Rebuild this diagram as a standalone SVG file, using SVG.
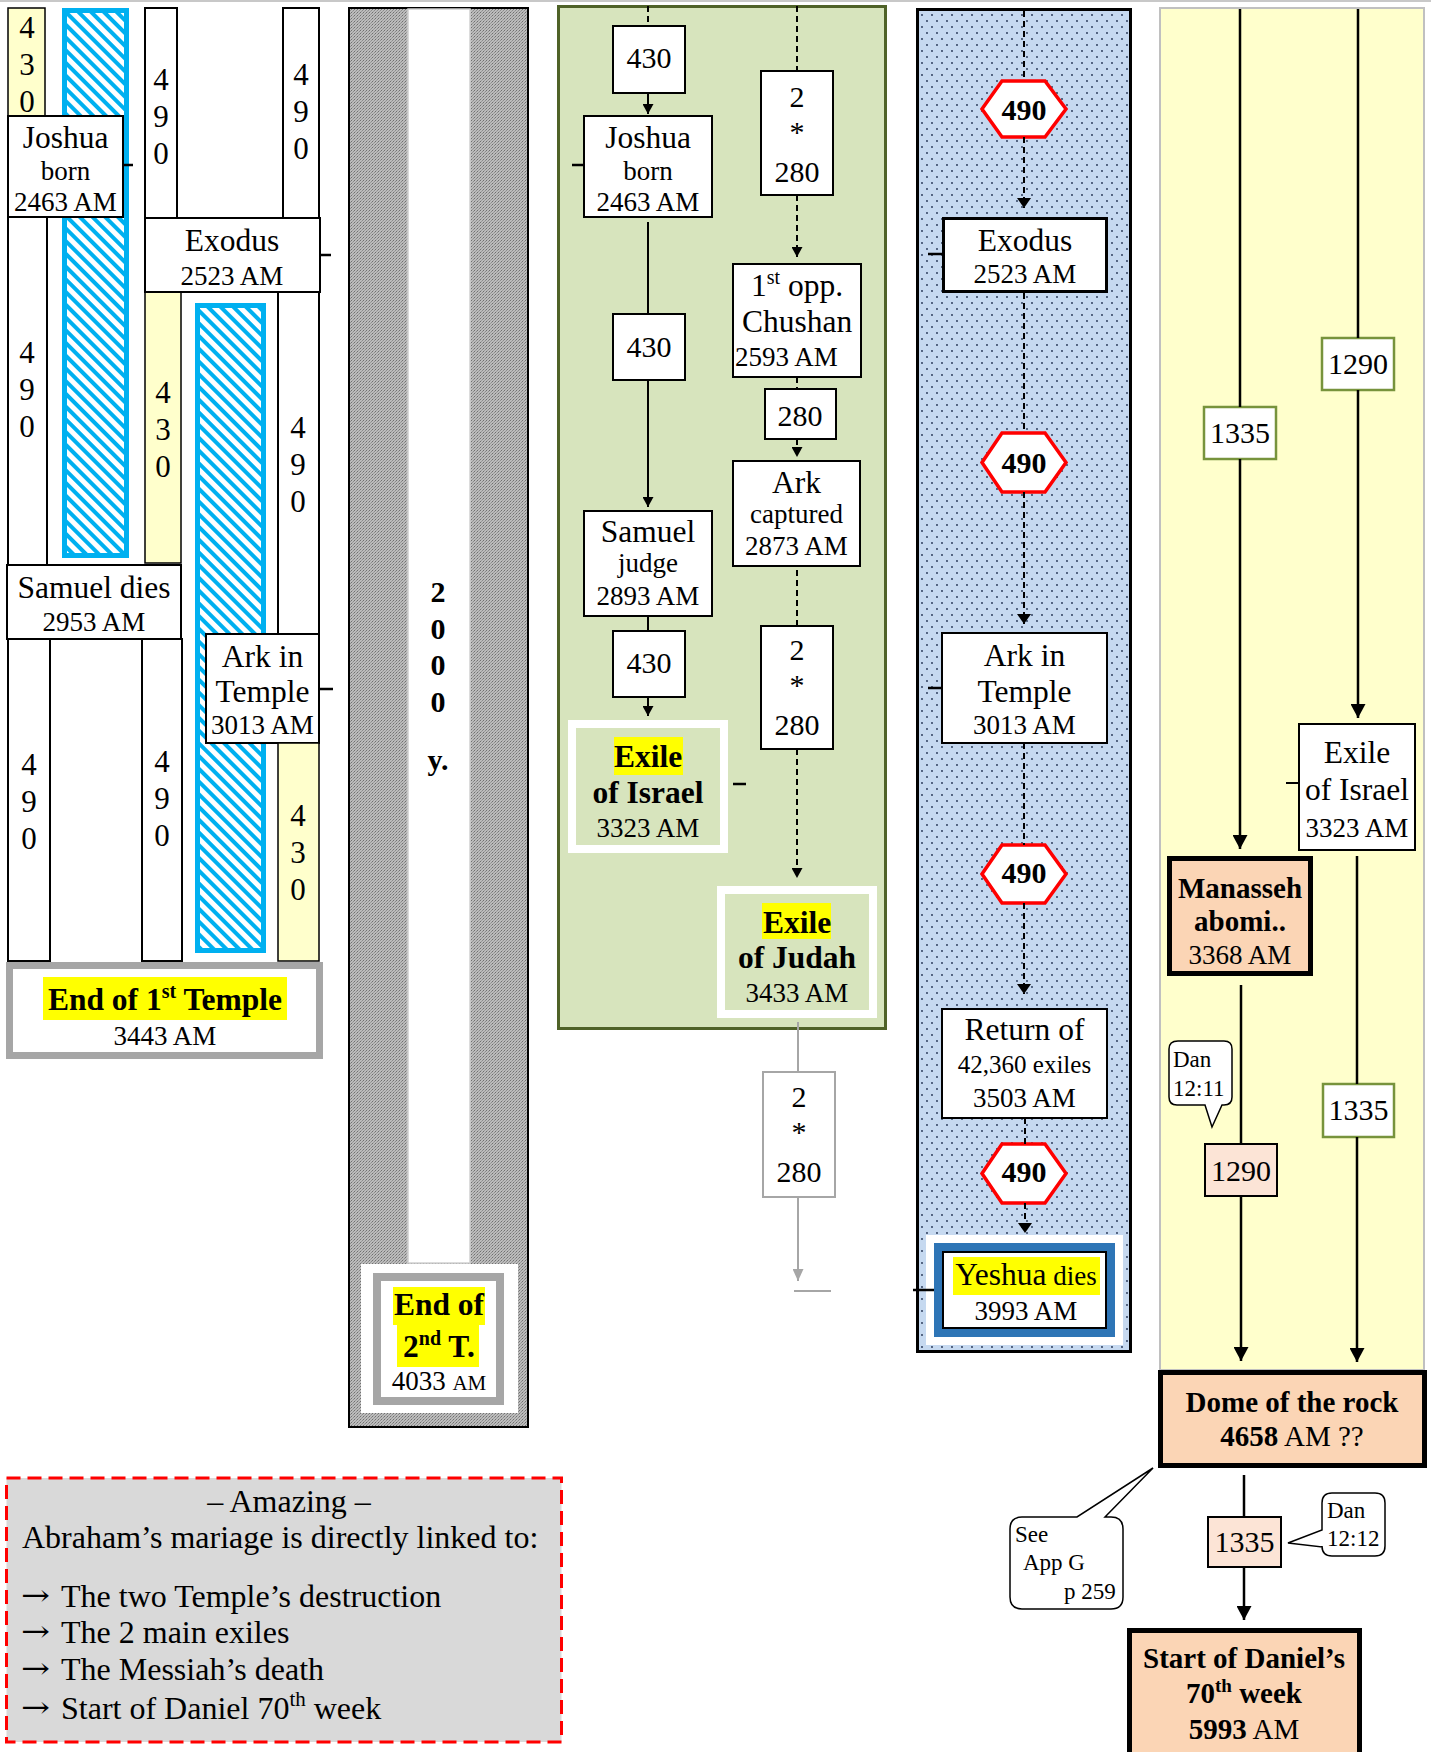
<svg xmlns="http://www.w3.org/2000/svg" width="1431" height="1752" viewBox="0 0 1431 1752">
<style>
.t{font-family:'Liberation Serif','Times New Roman',serif;fill:#000}
.L{font-size:31.5px;text-anchor:middle}
.S{font-size:27px;text-anchor:middle}
.V{font-size:31px;text-anchor:middle}
.N{font-size:30px;text-anchor:middle}
.C{font-size:23px}
.b{font-weight:bold}
.ar{font-family:'DejaVu Serif','DejaVu Sans',serif;font-size:29px;fill:#000}
.box{fill:#fff;stroke:#000;stroke-width:2}
.yel{fill:#ffffcc;stroke:#000;stroke-width:1.5}
.hl{fill:#ffff00}
.hex{fill:#fff;stroke:#ff0000;stroke-width:3.5}
.tick{stroke:#000;stroke-width:2.5}
.ln{stroke:#000;stroke-width:2;fill:none}
.ds{stroke:#000;stroke-width:2;fill:none;stroke-dasharray:6 4}
.gl{stroke:#a6a6a6;stroke-width:2;fill:none}
.yl{stroke:#000;stroke-width:2.5;fill:none}
.gbox{fill:#fff;stroke:#77933c;stroke-width:2.5}
.pbox{fill:#fce4d6;stroke:#000;stroke-width:2}
.heavy{fill:#fbd5b5;stroke:#000;stroke-width:5}
.call{fill:#fff;stroke:#000;stroke-width:1.5}
</style>
<defs>
<pattern id="hatch" width="9" height="9" patternUnits="userSpaceOnUse" patternTransform="rotate(-45)"><rect width="9" height="9" fill="#fff"/><rect width="4" height="9" fill="#00b0f0"/></pattern>
<pattern id="gp" width="3" height="3" patternUnits="userSpaceOnUse"><rect width="3" height="3" fill="#bcbcbc"/><rect width="1" height="1" fill="#707070"/><rect x="2" y="1" width="1" height="1" fill="#8c8c8c"/><rect x="1" y="2" width="1" height="1" fill="#9a9a9a"/></pattern>
<pattern id="dots" width="10" height="12" patternUnits="userSpaceOnUse"><rect width="10" height="12" fill="#c6d9f0"/><circle cx="2" cy="3" r="0.9" fill="#1f2f4f"/><circle cx="7" cy="9" r="0.9" fill="#1f2f4f"/></pattern>
<marker id="a" viewBox="0 0 10 10" preserveAspectRatio="none" refX="10" refY="5" markerWidth="10" markerHeight="11" markerUnits="userSpaceOnUse" orient="auto"><path d="M0,0 L10,5 L0,10 Z" fill="#000"/></marker>
<marker id="am" viewBox="0 0 10 10" preserveAspectRatio="none" refX="10" refY="5" markerWidth="10" markerHeight="14" markerUnits="userSpaceOnUse" orient="auto"><path d="M0,0 L10,5 L0,10 Z" fill="#000"/></marker>
<marker id="ab" viewBox="0 0 10 10" preserveAspectRatio="none" refX="10" refY="5" markerWidth="14" markerHeight="15" markerUnits="userSpaceOnUse" orient="auto"><path d="M0,0 L10,5 L0,10 Z" fill="#000"/></marker>
<marker id="ag" viewBox="0 0 10 10" preserveAspectRatio="none" refX="10" refY="5" markerWidth="12" markerHeight="11" markerUnits="userSpaceOnUse" orient="auto"><path d="M0,0 L10,5 L0,10 Z" fill="#a6a6a6"/></marker>
</defs>
<rect width="1431" height="1752" fill="#fff"/>
<line x1="0" y1="1" x2="1431" y2="1" stroke="#c8c8c8" stroke-width="2"/>

<!-- LEFT COLUMN -->
<g id="left-430-top"><rect class="yel" x="8" y="8" width="37" height="108"/>
<text class="t V" x="27" y="38"><tspan x="27">4</tspan><tspan x="27" dy="37">3</tspan><tspan x="27" dy="37">0</tspan></text></g>
<g id="hatch-1"><rect x="64.5" y="10.5" width="62" height="545" fill="url(#hatch)" stroke="#00b0f0" stroke-width="5"/></g>
<g id="left-490-a"><rect class="box" x="145" y="8" width="32" height="210"/>
<text class="t V" x="161" y="90"><tspan x="161">4</tspan><tspan x="161" dy="37">9</tspan><tspan x="161" dy="37">0</tspan></text></g>
<g id="left-490-b"><rect class="box" x="283" y="8" width="36" height="210"/>
<text class="t V" x="301" y="85"><tspan x="301">4</tspan><tspan x="301" dy="37">9</tspan><tspan x="301" dy="37">0</tspan></text></g>
<g id="left-490-c"><rect class="box" x="8" y="217" width="39" height="348"/>
<text class="t V" x="27" y="363"><tspan x="27">4</tspan><tspan x="27" dy="37">9</tspan><tspan x="27" dy="37">0</tspan></text></g>
<g id="left-joshua"><rect class="box" x="8" y="116" width="115" height="101"/>
<text class="t L" x="65.5" y="148">Joshua</text><text class="t S" x="65.5" y="180">born</text><text class="t S" x="65.5" y="211">2463 AM</text></g>
<g id="left-430-mid"><rect class="yel" x="145" y="292" width="36" height="271"/>
<text class="t V" x="163" y="403"><tspan x="163">4</tspan><tspan x="163" dy="37">3</tspan><tspan x="163" dy="37">0</tspan></text></g>
<g id="left-490-d"><rect class="box" x="278" y="292" width="41" height="342"/>
<text class="t V" x="298" y="438"><tspan x="298">4</tspan><tspan x="298" dy="37">9</tspan><tspan x="298" dy="37">0</tspan></text></g>
<g id="left-exodus"><rect class="box" x="145" y="218" width="175" height="74"/>
<text class="t L" x="232" y="251">Exodus</text><text class="t S" x="232" y="285">2523 AM</text></g>
<g id="hatch-2"><rect x="197.5" y="305.5" width="66" height="645" fill="url(#hatch)" stroke="#00b0f0" stroke-width="5"/></g>
<g id="left-samuel"><rect class="box" x="7" y="565" width="174" height="74"/>
<text class="t L" x="94" y="598">Samuel dies</text><text class="t S" x="94" y="631">2953 AM</text></g>
<g id="left-490-e"><rect class="box" x="8" y="639" width="42" height="322"/>
<text class="t V" x="29" y="775"><tspan x="29">4</tspan><tspan x="29" dy="37">9</tspan><tspan x="29" dy="37">0</tspan></text></g>
<g id="left-490-f"><rect class="box" x="142" y="639" width="40" height="322"/>
<text class="t V" x="162" y="772"><tspan x="162">4</tspan><tspan x="162" dy="37">9</tspan><tspan x="162" dy="37">0</tspan></text></g>
<g id="left-ark"><rect class="box" x="206" y="634" width="113" height="109"/>
<text class="t L" x="262.5" y="667">Ark in</text><text class="t L" x="262.5" y="702">Temple</text><text class="t S" x="262.5" y="734">3013 AM</text></g>
<g id="left-430-low"><rect class="yel" x="278" y="743" width="41" height="218"/>
<text class="t V" x="298" y="826"><tspan x="298">4</tspan><tspan x="298" dy="37">3</tspan><tspan x="298" dy="37">0</tspan></text></g>
<g id="end-first-temple"><rect x="9.5" y="965.5" width="310" height="90" fill="#fff" stroke="#a6a6a6" stroke-width="7"/>
<rect class="hl" x="43" y="977" width="244" height="43"/>
<text class="t L b" x="165" y="1010">End of 1<tspan font-size="20" dy="-12">st</tspan><tspan dy="12"> Temple</tspan></text>
<text class="t S" x="165" y="1045">3443 AM</text></g>

<!-- GRAY COLUMN -->
<g id="second-temple-column"><rect x="349" y="8" width="179" height="1419" fill="url(#gp)" stroke="#000" stroke-width="2"/>
<rect x="408" y="9" width="62" height="1254" fill="#fff" stroke="#d0d0d0" stroke-width="1.5"/>
<text class="t N b" x="438" y="602"><tspan x="438">2</tspan><tspan x="438" dy="36.5">0</tspan><tspan x="438" dy="36.5">0</tspan><tspan x="438" dy="36.5">0</tspan><tspan x="438" dy="58">y.</tspan></text></g>
<g id="end-second-temple"><rect x="361" y="1264" width="157" height="149" fill="#fff"/>
<rect x="377" y="1277" width="123" height="124" fill="#fff" stroke="#a6a6a6" stroke-width="8"/>
<rect class="hl" x="393" y="1287" width="92" height="38"/><rect class="hl" x="397" y="1325" width="82" height="42"/>
<text class="t L b" x="439" y="1315">End of</text>
<text class="t L b" x="439" y="1357">2<tspan font-size="20" dy="-12">nd</tspan><tspan dy="12"> T.</tspan></text>
<text class="t S" x="439" y="1390">4033 <tspan font-size="21">AM</tspan></text></g>

<!-- GREEN PANEL -->
<g id="green-panel"><rect x="558.5" y="6.5" width="327" height="1022" fill="#d7e4bd" stroke="#4f6228" stroke-width="3"/></g>
<g id="g-430-a"><rect class="box" x="613" y="26" width="72" height="67"/><text class="t N" x="649" y="68">430</text></g>
<g id="g-joshua"><rect class="box" x="584" y="116" width="128" height="101"/>
<text class="t L" x="648" y="148">Joshua</text><text class="t S" x="648" y="180">born</text><text class="t S" x="648" y="211">2463 AM</text></g>
<g id="g-430-b"><rect class="box" x="613" y="314" width="72" height="66"/><text class="t N" x="649" y="357">430</text></g>
<g id="g-samuel"><rect class="box" x="584" y="511" width="128" height="105"/>
<text class="t L" x="648" y="542">Samuel</text><text class="t S" x="648" y="572">judge</text><text class="t S" x="648" y="605">2893 AM</text></g>
<g id="g-430-c"><rect class="box" x="613" y="631" width="72" height="66"/><text class="t N" x="649" y="673">430</text></g>
<g id="g-exile-israel"><rect x="572" y="724" width="152" height="125" fill="#d7e4bd" stroke="#fff" stroke-width="8"/>
<rect class="hl" x="614" y="737" width="69" height="38"/>
<text class="t L b" x="648" y="767">Exile</text><text class="t L b" x="648" y="803">of Israel</text><text class="t S" x="648" y="837">3323 AM</text></g>
<g id="g-2x280-a"><rect class="box" x="761" y="71" width="72" height="124"/>
<text class="t N" x="797" y="107"><tspan x="797">2</tspan><tspan x="797" dy="34.5">*</tspan><tspan x="797" dy="40.5">280</tspan></text></g>
<g id="g-chushan"><rect class="box" x="733" y="264" width="128" height="113"/>
<text class="t L" x="797" y="296">1<tspan font-size="20" dy="-12">st</tspan><tspan dy="12"> opp.</tspan></text>
<text class="t L" x="797" y="332">Chushan</text><text class="t" font-size="27" x="735" y="366">2593 AM</text></g>
<g id="g-280"><rect class="box" x="765" y="389" width="71" height="50"/><text class="t N" x="800" y="426">280</text></g>
<g id="g-ark-captured"><rect class="box" x="733" y="461" width="127" height="105"/>
<text class="t L" x="796.5" y="493">Ark</text><text class="t S" x="796.5" y="523">captured</text><text class="t S" x="796.5" y="555">2873 AM</text></g>
<g id="g-2x280-b"><rect class="box" x="761" y="626" width="72" height="123"/>
<text class="t N" x="797" y="660"><tspan x="797">2</tspan><tspan x="797" dy="34.5">*</tspan><tspan x="797" dy="40.5">280</tspan></text></g>
<g id="g-exile-judah"><rect x="721" y="890" width="152" height="124" fill="#d7e4bd" stroke="#fff" stroke-width="8"/>
<rect class="hl" x="762" y="903" width="69" height="36"/>
<text class="t L b" x="797" y="933">Exile</text><text class="t L b" x="797" y="968">of Judah</text><text class="t S" x="797" y="1002">3433 AM</text></g>
<g id="g-2x280-gray"><rect x="763" y="1072" width="72" height="125" fill="#fff" stroke="#a6a6a6" stroke-width="2"/>
<text class="t N" x="799" y="1107"><tspan x="799">2</tspan><tspan x="799" dy="34.5">*</tspan><tspan x="799" dy="40.5">280</tspan></text></g>

<!-- BLUE PANEL -->
<g id="blue-panel"><rect x="917.5" y="9.5" width="213" height="1342" fill="url(#dots)" stroke="#000" stroke-width="3"/></g>
<g id="b-hex-1"><polygon class="hex" points="982,109 1002,81 1045,81 1066,109 1045,137 1002,137"/><text class="t N b" x="1024" y="120">490</text></g>
<g id="b-exodus"><rect x="943.5" y="218.5" width="163" height="73" fill="#fff" stroke="#000" stroke-width="3"/>
<text class="t L" x="1025" y="251">Exodus</text><text class="t S" x="1025" y="283">2523 AM</text></g>
<g id="b-hex-2"><polygon class="hex" points="982,462.5 1002,433 1045,433 1066,462.5 1045,492 1002,492"/><text class="t N b" x="1024" y="473">490</text></g>
<g id="b-ark"><rect class="box" x="942" y="633" width="165" height="110"/>
<text class="t L" x="1024.5" y="666">Ark in</text><text class="t L" x="1024.5" y="702">Temple</text><text class="t S" x="1024.5" y="734">3013 AM</text></g>
<g id="b-hex-3"><polygon class="hex" points="982,874 1002,845 1045,845 1066,874 1045,903 1002,903"/><text class="t N b" x="1024" y="883">490</text></g>
<g id="b-return"><rect class="box" x="942" y="1009" width="165" height="109"/>
<text class="t L" x="1024.5" y="1040">Return of</text><text class="t" font-size="25" text-anchor="middle" x="1024.5" y="1073">42,360 exiles</text><text class="t S" x="1024.5" y="1107">3503 AM</text></g>
<g id="b-hex-4"><polygon class="hex" points="982,1173.5 1002,1144 1045,1144 1066,1173.5 1045,1203 1002,1203"/><text class="t N b" x="1024" y="1182">490</text></g>
<g id="b-yeshua"><rect x="926" y="1235" width="197" height="110" fill="#fff"/>
<rect x="938" y="1247" width="173" height="86" fill="#fff" stroke="#2e75b6" stroke-width="8"/>
<rect x="943" y="1252" width="163" height="76" fill="#fff" stroke="#000" stroke-width="2"/>
<rect class="hl" x="953" y="1257" width="147" height="38"/>
<text class="t L" x="1026" y="1285">Yeshua<tspan font-size="27"> dies</tspan></text><text class="t S" x="1026" y="1320">3993 AM</text></g>

<!-- YELLOW PANEL -->
<g id="yellow-panel"><rect x="1160" y="8" width="264" height="1362" fill="#ffffcc" stroke="#c0c0c0" stroke-width="2"/></g>
<g id="y-1335-a"><rect class="gbox" x="1204" y="407" width="72" height="52"/><text class="t N" x="1240" y="443">1335</text></g>
<g id="y-1290-a"><rect class="gbox" x="1322" y="338" width="72" height="52"/><text class="t N" x="1358" y="374">1290</text></g>
<g id="y-exile-israel"><rect class="box" x="1299" y="724" width="116" height="126"/>
<text class="t L" x="1357" y="763">Exile</text><text class="t L" x="1357" y="800">of Israel</text><text class="t S" x="1357" y="837">3323 AM</text></g>
<g id="y-manasseh"><rect class="heavy" x="1169.5" y="858.5" width="141" height="115"/>
<text class="t b" font-size="29" text-anchor="middle" x="1240" y="898">Manasseh</text><text class="t b" font-size="29" text-anchor="middle" x="1240" y="931">abomi..</text><text class="t S" x="1240" y="964">3368 AM</text></g>
<g id="y-dan-12-11"><path class="call" d="M1178,1041 H1224 Q1232,1041 1232,1049 V1097 Q1232,1105 1224,1105 H1222 L1212,1127 L1205,1105 H1177 Q1169,1105 1169,1097 V1049 Q1169,1041 1178,1041 Z"/>
<text class="t C" x="1173" y="1067">Dan</text><text class="t C" x="1173" y="1096">12:11</text></g>
<g id="y-1290-b"><rect class="pbox" x="1205" y="1144" width="72" height="52"/><text class="t N" x="1241" y="1181">1290</text></g>
<g id="y-1335-b"><rect class="gbox" x="1323" y="1084" width="71" height="53"/><text class="t N" x="1358.5" y="1120">1335</text></g>
<g id="dome"><rect class="heavy" x="1160.5" y="1372.5" width="264" height="93"/>
<text class="t b" font-size="29" text-anchor="middle" x="1292" y="1412">Dome of the rock</text>
<text class="t" font-size="29" text-anchor="middle" x="1292" y="1446"><tspan font-weight="bold">4658</tspan> AM ??</text></g>
<g id="see-app-g"><path class="call" d="M1022,1517 H1077 L1153,1468 L1105,1517 H1111 Q1123,1517 1123,1529 V1597 Q1123,1609 1111,1609 H1022 Q1010,1609 1010,1597 V1529 Q1010,1517 1022,1517 Z"/>
<text class="t C" x="1015" y="1542">See</text><text class="t C" x="1023" y="1570">App G</text><text class="t C" x="1064" y="1599">p 259</text></g>
<g id="y-1335-c"><rect class="pbox" x="1208" y="1517" width="73" height="50"/><text class="t N" x="1244.5" y="1552">1335</text></g>
<g id="dan-12-12"><path class="call" d="M1332,1493 H1375 Q1385,1493 1385,1503 V1546 Q1385,1556 1375,1556 H1332 Q1322,1556 1322,1546 V1547 L1288,1543 L1322,1530 V1503 Q1322,1493 1332,1493 Z"/>
<text class="t C" x="1327" y="1518">Dan</text><text class="t C" x="1327" y="1546">12:12</text></g>
<g id="start-70th-week"><rect class="heavy" x="1129.5" y="1630.5" width="230" height="130"/>
<text class="t b" font-size="29" text-anchor="middle" x="1244" y="1668">Start of Daniel’s</text>
<text class="t b" font-size="29" text-anchor="middle" x="1244" y="1703">70<tspan font-size="19" dy="-11">th</tspan><tspan dy="11"> week</tspan></text>
<text class="t" font-size="29" text-anchor="middle" x="1244" y="1739"><tspan font-weight="bold">5993</tspan> AM</text></g>

<!-- NOTE -->
<g id="note"><rect x="6.5" y="1478" width="555" height="264" fill="#d9d9d9" stroke="#ff0000" stroke-width="3" stroke-dasharray="14 7"/>
<text class="t" font-size="32" text-anchor="middle" x="289" y="1512">– Amazing –</text>
<text class="t" font-size="32" x="22" y="1548">Abraham’s mariage is directly linked to:</text>
<text class="ar" x="21" y="1605" textLength="29" lengthAdjust="spacingAndGlyphs">→</text>
<text class="t" font-size="32" x="61" y="1607">The two Temple’s destruction</text>
<text class="ar" x="21" y="1641" textLength="29" lengthAdjust="spacingAndGlyphs">→</text>
<text class="t" font-size="32" x="61" y="1643">The 2 main exiles</text>
<text class="ar" x="21" y="1678" textLength="29" lengthAdjust="spacingAndGlyphs">→</text>
<text class="t" font-size="32" x="61" y="1680">The Messiah’s death</text>
<text class="ar" x="21" y="1717" textLength="29" lengthAdjust="spacingAndGlyphs">→</text>
<text class="t" font-size="32" x="61" y="1719">Start of Daniel 70<tspan font-size="21" dy="-13">th</tspan><tspan dy="13"> week</tspan></text></g>

<!-- CONNECTORS -->
<g id="connectors">
<line class="tick" x1="123" y1="165" x2="133" y2="165"/>
<line class="tick" x1="320" y1="255" x2="331" y2="255"/>
<line class="tick" x1="319" y1="689" x2="333" y2="689"/>
<line class="tick" x1="572" y1="165" x2="584" y2="165"/>
<line class="tick" x1="733" y1="784" x2="746" y2="784"/>
<line class="tick" x1="928" y1="254" x2="942" y2="254"/>
<line class="tick" x1="928" y1="688" x2="942" y2="688"/>
<line class="tick" x1="913" y1="1290" x2="934" y2="1290"/>
<line class="ln" x1="1286" y1="783" x2="1299" y2="783"/>

<line class="ds" x1="648" y1="6" x2="648" y2="26"/>
<line class="ln" x1="648" y1="93" x2="648" y2="114" marker-end="url(#a)"/>
<line class="ln" x1="648" y1="222" x2="648" y2="314"/>
<line class="ln" x1="648" y1="380" x2="648" y2="507" marker-end="url(#a)"/>
<line class="ln" x1="648" y1="616" x2="648" y2="631"/>
<line class="ln" x1="648" y1="697" x2="648" y2="716" marker-end="url(#a)"/>
<line class="ds" x1="797" y1="6" x2="797" y2="71"/>
<line class="ds" x1="797" y1="195" x2="797" y2="257" marker-end="url(#a)"/>
<line class="ds" x1="797" y1="377" x2="797" y2="389"/>
<line class="ds" x1="797" y1="439" x2="797" y2="457" marker-end="url(#a)"/>
<line class="ds" x1="797" y1="570" x2="797" y2="626"/>
<line class="ds" x1="797" y1="749" x2="797" y2="878" marker-end="url(#a)"/>
<line class="gl" x1="798" y1="1022" x2="798" y2="1072"/>
<line class="gl" x1="798" y1="1197" x2="798" y2="1281" marker-end="url(#ag)"/>
<line class="gl" x1="794" y1="1291" x2="831" y2="1291"/>

<line class="ds" x1="1024" y1="11" x2="1024" y2="81"/>
<line class="ds" x1="1024" y1="137" x2="1024" y2="208" marker-end="url(#am)"/>
<line class="ds" x1="1024" y1="293" x2="1024" y2="433"/>
<line class="ds" x1="1024" y1="492" x2="1024" y2="624" marker-end="url(#am)"/>
<line class="ds" x1="1024" y1="743" x2="1024" y2="845"/>
<line class="ds" x1="1024" y1="903" x2="1024" y2="994" marker-end="url(#am)"/>
<line class="ds" x1="1025" y1="1118" x2="1025" y2="1144"/>
<line class="ds" x1="1025" y1="1203" x2="1025" y2="1233" marker-end="url(#am)"/>

<line class="yl" x1="1240" y1="9" x2="1240" y2="407"/>
<line class="yl" x1="1240" y1="459" x2="1240" y2="849" marker-end="url(#ab)"/>
<line class="yl" x1="1358" y1="9" x2="1358" y2="338"/>
<line class="yl" x1="1358" y1="390" x2="1358" y2="718" marker-end="url(#ab)"/>
<line class="yl" x1="1241" y1="985" x2="1241" y2="1144"/>
<line class="yl" x1="1241" y1="1196" x2="1241" y2="1361" marker-end="url(#ab)"/>
<line class="yl" x1="1357" y1="856" x2="1357" y2="1084"/>
<line class="yl" x1="1357" y1="1137" x2="1357" y2="1362" marker-end="url(#ab)"/>
<line class="yl" x1="1244" y1="1475" x2="1244" y2="1517"/>
<line class="yl" x1="1244" y1="1567" x2="1244" y2="1620" marker-end="url(#ab)"/>
</g>
</svg>
